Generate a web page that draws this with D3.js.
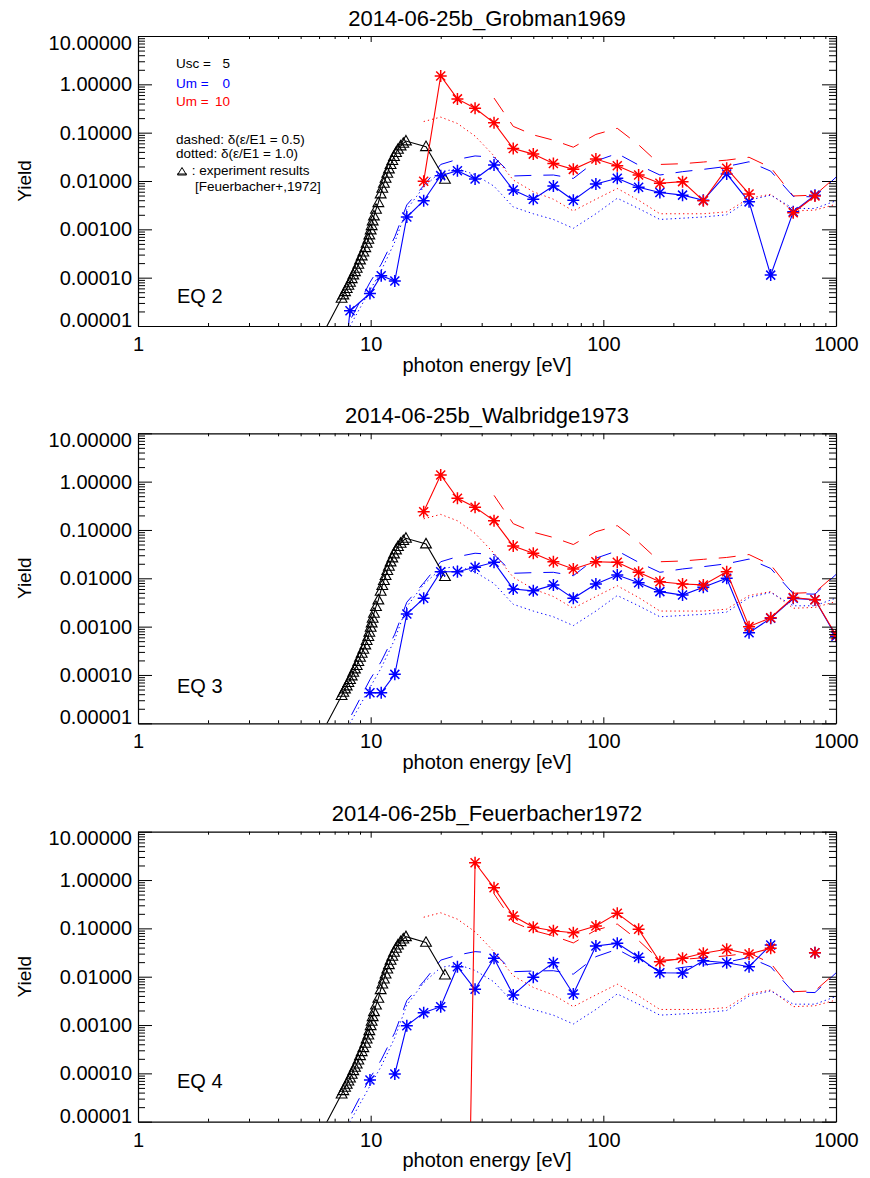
<!DOCTYPE html>
<html>
<head>
<meta charset="utf-8">
<title>Yield</title>
<script src="https://cdn.jsdelivr.net/npm/d3@7"></script>
<style>
  body { margin: 0; background: #fff; }
  text { font-family: "Liberation Sans", Arial, Helvetica, sans-serif; fill: #000; }
</style>
</head>
<body>
<svg width="870" height="1178" id="mainsvg"></svg>
<script>
// energy grid shared by the model curves [eV]
const energy = [7.6, 8.15, 9.93, 11.1, 12.7, 14.3, 16.9, 20.0, 23.6, 28.1, 33.9, 41.0, 50.0, 61.0, 74.3,
  92.9, 114.8, 141.8, 175, 219, 269, 339, 423, 524, 655, 812, 1000];

// experiment results [Feuerbacher+,1972]
const expEnergy = [7.50, 7.63, 7.76, 7.89, 8.02, 8.15, 8.29, 8.42, 8.56, 8.71, 8.85, 9.00, 9.15, 9.30, 9.48,
  9.61, 9.77, 9.87, 10.00, 10.10, 10.20, 10.33, 10.54, 10.79, 11.04, 11.22, 11.40, 11.59, 11.79, 11.98,
  12.18, 12.39, 12.60, 12.85, 13.10, 13.45, 13.81, 14.18, 17.29, 20.86];
const expYield = [3.73e-5, 4.38e-5, 5.13e-5, 5.92e-5, 6.93e-5, 8.0e-5, 9.53e-5, 1.135e-4, 1.33e-4, 1.56e-4,
  1.886e-4, 2.32e-4, 2.81e-4, 3.39e-4, 4.17e-4, 5.13e-4, 6.21e-4, 7.63e-4, 9.68e-4, 1.19e-3,
  1.487e-3, 1.887e-3, 2.59e-3, 3.56e-3, 5.38e-3, 7.05e-3, 8.94e-3, 0.01135, 0.0144, 0.0177,
  0.02177, 0.02634, 0.03187, 0.03856, 0.04518, 0.05296, 0.0601, 0.0672, 0.0513, 0.01082];
// the experiment line starts below the plot range
const expLead = [6.2, 6.6e-6];

// delta curves (same in every panel)
const dashedUm0 = [4e-6, 1.3e-5, 8e-5, 1.9e-4, 7e-4, 3.2e-3, 8e-3, 0.022, 0.028, 0.033, 0.031, 0.0127, 0.0131,
  0.0133, 0.0113, 0.026, 0.037, 0.0214, 0.0133, 0.0156, 0.0174, 0.020, 0.025, 0.016, 0.0048, 0.0047, 0.012];
const dottedUm0 = [3e-6, 1.0e-5, 5.5e-5, 1.4e-4, 5.5e-4, 2.6e-3, 7.5e-3, 0.0155, 0.018, 0.0135, 0.0078, 0.0029,
  0.0021, 0.0016, 0.00105, 0.0021, 0.0044, 0.0027, 0.0016, 0.0017, 0.0018, 0.0020, 0.0040, 0.0051, 0.0027, 0.0027, 0.0039];
const dashedUm10 = [null, null, null, null, null, null, null, null, null, null, 0.52, 0.135, 0.09, 0.070, 0.050,
  0.092, 0.123, 0.056, 0.022, 0.0228, 0.0247, 0.027, 0.031, 0.019, 0.0049, 0.0051, 0.0123];
const dottedUm10 = [null, null, null, null, null, null, 0.17, 0.21, 0.155, 0.085, 0.033, 0.0105, 0.006, 0.0042,
  0.0024, 0.0042, 0.0070, 0.0040, 0.0021, 0.0021, 0.0021, 0.0023, 0.0044, 0.0053, 0.0024, 0.0025, 0.0033];

// yields per equation, Um = 0 (blue) and Um = 10 (red)
const um0Eq2 = [8e-7, 2.07e-5, 4.7e-5, 1.1e-4, 8.5e-5, 1.8e-3, 3.9e-3, 0.0129, 0.0163, 0.011, 0.0214, 0.0065,
  0.0042, 0.0079, 0.0040, 0.0087, 0.0114, 0.0074, 0.0058, 0.0051, 0.0040, 0.014, 0.0037, 1.13e-4, 0.0023, 0.0051, null];
const um10Eq2 = [null, null, null, null, null, null, 0.0099, 1.49, 0.50, 0.32, 0.16, 0.047, 0.036, 0.023, 0.0174,
  0.0285, 0.0207, 0.0133, 0.0090, 0.0097, 0.0039, 0.0183, 0.0054, null, 0.0022, 0.0049, null];
const um0Eq3 = [null, null, 4.3e-5, 4.3e-5, 1.03e-4, 1.82e-3, 3.85e-3, 0.0137, 0.0137, 0.0169, 0.0214, 0.006,
  0.0055, 0.0073, 0.00385, 0.0076, 0.0117, 0.0081, 0.0053, 0.0045, 0.0065, 0.010, 7.5e-4, 0.00149, 0.00385, 0.0036, 6.3e-4];
const um10Eq3 = [null, null, null, null, null, null, 0.239, 1.37, 0.452, 0.294, 0.156, 0.0466, 0.0329, 0.022,
  0.0156, 0.022, 0.0214, 0.0133, 0.0085, 0.0076, 0.0073, 0.0137, 0.0010, 0.00153, 0.0040, 0.0036, 6.7e-4];
const um0Eq4 = [null, null, 7.3e-5, null, 9.7e-5, 9.7e-4, 1.8e-3, 2.4e-3, 0.0161, 0.0055, 0.024, 0.0042, 0.0097,
  0.0195, 0.0044, 0.0432, 0.049, 0.0252, 0.0121, 0.0119, 0.0214, 0.0195, 0.0161, 0.0453, null, 0.0313, null];
const um10Eq4 = [null, null, null, null, null, null, null, null, 1e-21, 2.28, 0.69, 0.18, 0.105, 0.0895, 0.081,
  0.112, 0.205, 0.0955, 0.0204, 0.024, 0.0305, 0.0369, 0.0295, 0.0386, null, 0.0313, null];

const titles = ['2014-06-25b_Grobman1969', '2014-06-25b_Walbridge1973', '2014-06-25b_Feuerbacher1972'];
const eqLabels = ['EQ 2', 'EQ 3', 'EQ 4'];
const eqLabelYield = [3.0e-5, 4.3e-5, 5.0e-5];
const xTicks = [1, 10, 100, 1000];
const yTicks = [10, 1, 0.1, 0.01, 0.001, 0.0001, 0.00001];

const panels = [
  { um0: um0Eq2, um10: um10Eq2 },
  { um0: um0Eq3, um10: um10Eq3 },
  { um0: um0Eq4, um10: um10Eq4 }
];

const svg = d3.select('#mainsvg');
const left = 138, plotW = 698, plotH = 290;
const tops = [36, 433.3, 831.7];
const BLUE = '#0000ff', RED = '#ff0000';

const xScale = d3.scaleLog().domain([1, 1000]).range([0, plotW]);
const yScale = d3.scaleLog().domain([1e-5, 10]).range([plotH, 0]);

const minorX = [];
[1, 10, 100].forEach(b => d3.range(2, 10).forEach(k => minorX.push(k * b)));
const minorY = [];
[1e-5, 1e-4, 1e-3, 1e-2, 1e-1, 1].forEach(b => d3.range(2, 10).forEach(k => minorY.push(k * b)));

const line = d3.line()
  .defined(d => d.y != null && d.y > 0)
  .x(d => xScale(d.x)).y(d => yScale(d.y));
const toPts = arr => arr.map((v, i) => ({ x: energy[i], y: v }));

const starPath = 'M-6,0H6M0,-6V6M-4.5,-4.5L4.5,4.5M-4.5,4.5L4.5,-4.5';
const triPath = 'M0,-5.6L5.4,3.9L-5.4,3.9Z';

panels.forEach((p, pi) => {
  const g = svg.append('g').attr('transform', `translate(${left}, ${tops[pi]})`);

  g.append('clipPath').attr('id', 'clip' + pi)
    .append('rect').attr('width', plotW).attr('height', plotH);
  const plot = g.append('g').attr('clip-path', `url(#clip${pi})`);

  // model curves
  const curves = [
    { data: dashedUm10, color: RED, dash: '17,12' },
    { data: dashedUm0, color: BLUE, dash: '17,12' },
    { data: dottedUm10, color: RED, dash: '1.3,3' },
    { data: dottedUm0, color: BLUE, dash: '1.3,3' }
  ];
  curves.forEach(c => {
    plot.append('path').attr('d', line(toPts(c.data)))
      .attr('fill', 'none').attr('stroke', c.color)
      .attr('stroke-width', 1).attr('stroke-dasharray', c.dash);
  });

  // experiment
  const expPts = [{ x: expLead[0], y: expLead[1] }].concat(expEnergy.map((e, i) => ({ x: e, y: expYield[i] })));
  plot.append('path').attr('d', line(expPts))
    .attr('fill', 'none').attr('stroke', '#000').attr('stroke-width', 1.1);
  plot.selectAll('.tri').data(expPts.slice(1)).join('path')
    .attr('class', 'tri')
    .attr('transform', d => `translate(${xScale(d.x)}, ${yScale(d.y)})`)
    .attr('d', triPath).attr('fill', 'none').attr('stroke', '#000').attr('stroke-width', 1.1);

  // Um = 0 and Um = 10
  [{ data: p.um0, color: BLUE }, { data: p.um10, color: RED }].forEach(s => {
    const pts = toPts(s.data);
    plot.append('path').attr('d', line(pts))
      .attr('fill', 'none').attr('stroke', s.color).attr('stroke-width', 1.1);
    plot.selectAll(null).data(pts.filter(d => d.y != null && d.y > 1e-9)).join('path')
      .attr('transform', d => `translate(${xScale(d.x)}, ${yScale(d.y)})`)
      .attr('d', starPath).attr('fill', 'none').attr('stroke', s.color).attr('stroke-width', 1.5);
  });

  // axes (IDL style: ticks pointing inward on all four sides)
  const xb = g.append('g').attr('transform', `translate(0, ${plotH})`)
    .call(d3.axisBottom(xScale).tickValues(xTicks).tickSize(-6).tickSizeOuter(0).tickPadding(11)
      .tickFormat(d3.format('d')));
  xb.selectAll('.tick text').attr('font-size', 20).attr('font-family', null);
  g.append('g').attr('transform', `translate(0, ${plotH})`)
    .call(d3.axisBottom(xScale).tickValues(minorX).tickSize(-3).tickSizeOuter(0).tickFormat(''))
    .call(s => s.select('.domain').remove());
  g.append('g').call(d3.axisTop(xScale).tickValues(xTicks).tickSize(-6).tickSizeOuter(0).tickFormat(''));
  g.append('g').call(d3.axisTop(xScale).tickValues(minorX).tickSize(-3).tickSizeOuter(0).tickFormat(''))
    .call(s => s.select('.domain').remove());

  const yl = g.append('g')
    .call(d3.axisLeft(yScale).tickValues(yTicks).tickSize(-14).tickSizeOuter(0).tickPadding(6)
      .tickFormat(d3.format('.5f')));
  yl.selectAll('.tick text').attr('font-size', 20).attr('font-family', null)
    .attr('dy', d => d === 10 ? '0.66em' : (d === 1e-5 ? '0.02em' : '0.32em'));
  g.append('g').call(d3.axisLeft(yScale).tickValues(minorY).tickSize(-7).tickSizeOuter(0).tickFormat(''))
    .call(s => s.select('.domain').remove());
  g.append('g').attr('transform', `translate(${plotW}, 0)`)
    .call(d3.axisRight(yScale).tickValues(yTicks).tickSize(-14).tickSizeOuter(0).tickFormat(''));
  g.append('g').attr('transform', `translate(${plotW}, 0)`)
    .call(d3.axisRight(yScale).tickValues(minorY).tickSize(-7).tickSizeOuter(0).tickFormat(''))
    .call(s => s.select('.domain').remove());
  g.selectAll('.tick line').attr('stroke', '#000');
  g.selectAll('path.domain').attr('stroke', '#000').attr('stroke-width', 1.2);

  // titles and labels
  g.append('text').attr('x', plotW / 2).attr('y', -10.5)
    .attr('text-anchor', 'middle').attr('font-size', 22).text(titles[pi]);
  g.append('text').attr('x', plotW / 2).attr('y', plotH + 45.5)
    .attr('text-anchor', 'middle').attr('font-size', 20).text('photon energy [eV]');
  g.append('text').attr('transform', `translate(${30.5 - left}, ${plotH / 2}) rotate(-90)`)
    .attr('text-anchor', 'middle').attr('font-size', 19).text('Yield');
  g.append('text').attr('x', 39).attr('y', yScale(eqLabelYield[pi]))
    .attr('font-size', 20).text(eqLabels[pi]);
});

// legend in the first panel
const legend = svg.append('g').attr('font-size', 13.5);
const lx = 176;
const legendRows = [
  { label: 'Usc =', value: '5', color: '#000', y: 67.7 },
  { label: 'Um =', value: '0', color: BLUE, y: 87.7 },
  { label: 'Um =', value: '10', color: RED, y: 106 }
];
legendRows.forEach(r => {
  legend.append('text').attr('x', lx).attr('y', r.y).style('fill', r.color).text(r.label);
  legend.append('text').attr('x', 230).attr('y', r.y).attr('text-anchor', 'end').style('fill', r.color).text(r.value);
});
legend.append('text').attr('x', lx).attr('y', 143.7).text('dashed: δ(ε/E1 = 0.5)');
legend.append('text').attr('x', lx).attr('y', 157.7).text('dotted: δ(ε/E1 = 1.0)');
legend.append('line').attr('x1', lx + 1).attr('x2', lx + 11).attr('y1', 174).attr('y2', 174)
  .attr('stroke', '#000').attr('stroke-width', 1);
legend.append('path').attr('transform', `translate(${lx + 6}, 172)`)
  .attr('d', 'M0,-4.5L4.5,3L-4.5,3Z').attr('fill', 'none').attr('stroke', '#000').attr('stroke-width', 1);
legend.append('text').attr('x', 191.7).attr('y', 175).text(': experiment results');
legend.append('text').attr('x', 195).attr('y', 191).text('[Feuerbacher+,1972]');
</script>
</body>
</html>
